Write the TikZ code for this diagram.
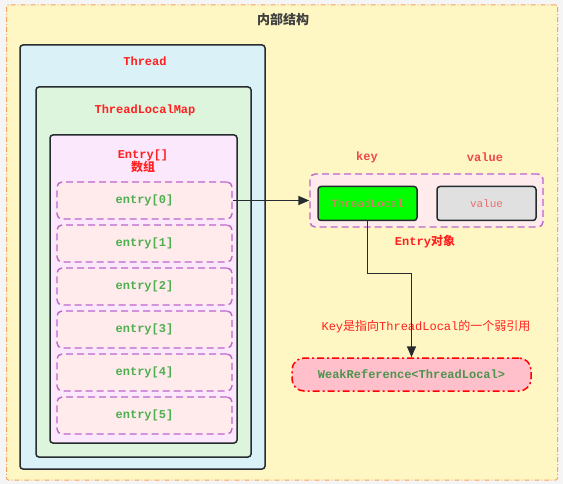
\documentclass[tikz,border=0pt]{standalone}
\usepackage{fontspec}
\setmonofont{Liberation Mono}
\newfontfamily\cjk{Noto Sans CJK SC}
\usetikzlibrary{arrows.meta}

\definecolor{outerfill}{HTML}{FFF7C3}
\definecolor{outerline}{HTML}{F4A460}
\definecolor{threadfill}{HTML}{DAF2F7}
\definecolor{mapfill}{HTML}{DDF5DC}
\definecolor{arrfill}{HTML}{FBE8FC}
\definecolor{slotfill}{HTML}{FFEBEB}
\definecolor{slotline}{HTML}{BB66CC}
\definecolor{boxline}{HTML}{262B30}
\definecolor{labelred}{HTML}{FF2020}
\definecolor{keyred}{HTML}{F04848}
\definecolor{softred}{HTML}{E87070}
\definecolor{slotgreen}{HTML}{4FAE4F}
\definecolor{weakgreen}{HTML}{4D934D}
\definecolor{weakfill}{HTML}{FFC0CB}

\tikzset{
  holder/.style={draw=boxline, line width=1.5pt, rounded corners=3pt, inner sep=0pt},
  slot/.style={draw=slotline, line width=1.4pt, dash pattern=on 7pt off 4pt,
    rounded corners=5pt, fill=slotfill, minimum width=175pt, minimum height=37pt,
    text=slotgreen, font=\fontsize{12}{14}\ttfamily\bfseries},
  title/.style={text=labelred, font=\fontsize{12}{14}\ttfamily\bfseries},
  link/.style={draw=boxline, line width=1.6pt, -{Triangle[length=11pt, width=9pt]}}
}

\begin{document}
\begin{tikzpicture}[x=1pt, y=-1pt]
  % \draw[help lines, step=50] (0,0) grid (563,484);
  \fill[black!4] (0,0) rectangle (563,484);
  \useasboundingbox (0,0) rectangle (563,484);
  \node at (282, 242.5) [draw=outerline, fill=outerfill, line width=1pt,
  dash pattern=on 5pt off 2pt on 1pt off 2pt, rounded corners=2pt,
  minimum width=551pt, minimum height=475pt] (inner) {};
  \node at (283, 20) [text=black!75, font=\fontsize{13}{15}\cjk\bfseries] (caption) {内部结构};

  \node at (142.5, 257) [holder, fill=threadfill, minimum width=245pt, minimum height=424pt] (thread) {};
  \node at (143.5, 272) [holder, fill=mapfill, minimum width=215pt, minimum height=370pt] (map) {};
  \node at (143.5, 289) [holder, fill=arrfill, minimum width=187pt, minimum height=308pt] (arr) {};
  \node at (145, 61) [title] (threadtxt) {Thread};
  \node at (145, 110) [title] (maptxt) {ThreadLocalMap};
  \node at (143, 161) [title, align=center, inner sep=0pt] (arrtxt) {Entry[]\\[-1pt]{\cjk 数组}};

  \foreach \i in {0, 1, ..., 5}
    \node at (144.5, 200.5 + 43*\i) [slot] (e\i) {entry[\i]};

  \node at (426.5, 200.5) [draw=slotline, line width=1.4pt, dash pattern=on 7pt off 4pt,
  rounded corners=5pt, fill=slotfill, minimum width=233pt, minimum height=53pt] (obj) {};
  \node at (367.5, 203.5) [holder, fill=green, minimum width=99pt, minimum height=34pt,
  text=softred, font=\fontsize{11}{13}\ttfamily] (tl) {ThreadLocal};
  \node at (486.5, 203.5) [holder, fill=black!12, minimum width=99pt, minimum height=34pt,
  text=softred, font=\fontsize{11}{13}\ttfamily] (val) {value};
  \node at (367, 157) [title, text=keyred] (keytxt) {key};
  \node at (485, 157) [title, text=keyred] (valtxt) {value};
  \node at (425, 242) [title] (objtxt) {Entry{\cjk 对象}};

  \node at (411.5, 374.5) [draw=red, fill=weakfill, line width=1.5pt,
  dash pattern=on 7pt off 3pt on 2pt off 3pt, rounded corners=12pt,
  minimum width=239pt, minimum height=33pt, text=weakgreen,
  font=\fontsize{12}{14}\ttfamily\bfseries] (weak) {WeakReference<ThreadLocal>};
  \node at (426, 327) [text=labelred, font=\fontsize{12}{14}\ttfamily] (note)
  {Key{\cjk 是指向}ThreadLocal{\cjk 的一个弱引用}};

  \draw[link] (e0) -- (obj);
  \draw[link] (tl) -- ++(0, 70) -| (weak);
\end{tikzpicture}
\end{document}
